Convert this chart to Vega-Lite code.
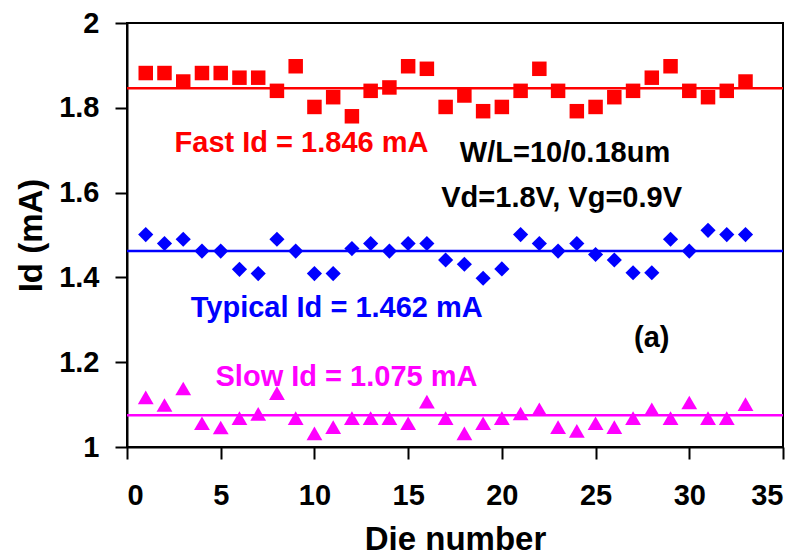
{
  "$schema": "https://vega.github.io/schema/vega-lite/v6.json",
  "autosize": {"type": "none"},
  "padding": {"left": 127, "top": 23, "right": 25, "bottom": 110},
  "width": 656,
  "height": 424,
  "config": {
    "view": {"stroke": "black", "strokeWidth": 2},
    "font": "Liberation Sans",
    "axis": {"grid": false, "domainColor": "black", "domainWidth": 2, "tickColor": "black", "tickWidth": 2, "tickSize": 12, "labelFont": "Liberation Sans", "labelFontWeight": "bold", "labelFontSize": 29, "labelColor": "black", "titleFont": "Liberation Sans", "titleFontWeight": "bold", "titleFontSize": 33, "titleColor": "black"}
  },
  "datasets": {
    "points": [
      {"die": 1, "series": "Fast", "id": 1.882}, {"die": 2, "series": "Fast", "id": 1.882}, {"die": 3, "series": "Fast", "id": 1.862}, {"die": 4, "series": "Fast", "id": 1.882}, {"die": 5, "series": "Fast", "id": 1.882}, {"die": 6, "series": "Fast", "id": 1.871}, {"die": 7, "series": "Fast", "id": 1.871}, {"die": 8, "series": "Fast", "id": 1.840}, {"die": 9, "series": "Fast", "id": 1.898}, {"die": 10, "series": "Fast", "id": 1.802}, {"die": 11, "series": "Fast", "id": 1.825}, {"die": 12, "series": "Fast", "id": 1.780}, {"die": 13, "series": "Fast", "id": 1.840}, {"die": 14, "series": "Fast", "id": 1.848}, {"die": 15, "series": "Fast", "id": 1.898}, {"die": 16, "series": "Fast", "id": 1.892}, {"die": 17, "series": "Fast", "id": 1.802}, {"die": 18, "series": "Fast", "id": 1.829}, {"die": 19, "series": "Fast", "id": 1.792}, {"die": 20, "series": "Fast", "id": 1.802}, {"die": 21, "series": "Fast", "id": 1.840}, {"die": 22, "series": "Fast", "id": 1.892}, {"die": 23, "series": "Fast", "id": 1.840}, {"die": 24, "series": "Fast", "id": 1.792}, {"die": 25, "series": "Fast", "id": 1.802}, {"die": 26, "series": "Fast", "id": 1.825}, {"die": 27, "series": "Fast", "id": 1.840}, {"die": 28, "series": "Fast", "id": 1.871}, {"die": 29, "series": "Fast", "id": 1.898}, {"die": 30, "series": "Fast", "id": 1.840}, {"die": 31, "series": "Fast", "id": 1.825}, {"die": 32, "series": "Fast", "id": 1.840}, {"die": 33, "series": "Fast", "id": 1.862},
      {"die": 1, "series": "Typical", "id": 1.501}, {"die": 2, "series": "Typical", "id": 1.480}, {"die": 3, "series": "Typical", "id": 1.490}, {"die": 4, "series": "Typical", "id": 1.462}, {"die": 5, "series": "Typical", "id": 1.462}, {"die": 6, "series": "Typical", "id": 1.419}, {"die": 7, "series": "Typical", "id": 1.409}, {"die": 8, "series": "Typical", "id": 1.490}, {"die": 9, "series": "Typical", "id": 1.462}, {"die": 10, "series": "Typical", "id": 1.409}, {"die": 11, "series": "Typical", "id": 1.409}, {"die": 12, "series": "Typical", "id": 1.468}, {"die": 13, "series": "Typical", "id": 1.480}, {"die": 14, "series": "Typical", "id": 1.462}, {"die": 15, "series": "Typical", "id": 1.480}, {"die": 16, "series": "Typical", "id": 1.480}, {"die": 17, "series": "Typical", "id": 1.441}, {"die": 18, "series": "Typical", "id": 1.431}, {"die": 19, "series": "Typical", "id": 1.398}, {"die": 20, "series": "Typical", "id": 1.420}, {"die": 21, "series": "Typical", "id": 1.501}, {"die": 22, "series": "Typical", "id": 1.480}, {"die": 23, "series": "Typical", "id": 1.462}, {"die": 24, "series": "Typical", "id": 1.480}, {"die": 25, "series": "Typical", "id": 1.454}, {"die": 26, "series": "Typical", "id": 1.441}, {"die": 27, "series": "Typical", "id": 1.411}, {"die": 28, "series": "Typical", "id": 1.411}, {"die": 29, "series": "Typical", "id": 1.490}, {"die": 30, "series": "Typical", "id": 1.462}, {"die": 31, "series": "Typical", "id": 1.511}, {"die": 32, "series": "Typical", "id": 1.501}, {"die": 33, "series": "Typical", "id": 1.501},
      {"die": 1, "series": "Slow", "id": 1.117}, {"die": 2, "series": "Slow", "id": 1.099}, {"die": 3, "series": "Slow", "id": 1.138}, {"die": 4, "series": "Slow", "id": 1.056}, {"die": 5, "series": "Slow", "id": 1.046}, {"die": 6, "series": "Slow", "id": 1.068}, {"die": 7, "series": "Slow", "id": 1.078}, {"die": 8, "series": "Slow", "id": 1.127}, {"die": 9, "series": "Slow", "id": 1.068}, {"die": 10, "series": "Slow", "id": 1.032}, {"die": 11, "series": "Slow", "id": 1.047}, {"die": 12, "series": "Slow", "id": 1.068}, {"die": 13, "series": "Slow", "id": 1.068}, {"die": 14, "series": "Slow", "id": 1.068}, {"die": 15, "series": "Slow", "id": 1.056}, {"die": 16, "series": "Slow", "id": 1.107}, {"die": 17, "series": "Slow", "id": 1.068}, {"die": 18, "series": "Slow", "id": 1.032}, {"die": 19, "series": "Slow", "id": 1.056}, {"die": 20, "series": "Slow", "id": 1.068}, {"die": 21, "series": "Slow", "id": 1.079}, {"die": 22, "series": "Slow", "id": 1.089}, {"die": 23, "series": "Slow", "id": 1.047}, {"die": 24, "series": "Slow", "id": 1.038}, {"die": 25, "series": "Slow", "id": 1.056}, {"die": 26, "series": "Slow", "id": 1.047}, {"die": 27, "series": "Slow", "id": 1.068}, {"die": 28, "series": "Slow", "id": 1.089}, {"die": 29, "series": "Slow", "id": 1.068}, {"die": 30, "series": "Slow", "id": 1.105}, {"die": 31, "series": "Slow", "id": 1.068}, {"die": 32, "series": "Slow", "id": 1.068}, {"die": 33, "series": "Slow", "id": 1.101}
    ],
    "means": [
      {"series": "Fast", "mean": 1.846},
      {"series": "Typical", "mean": 1.462},
      {"series": "Slow", "mean": 1.075}
    ],
    "labels": [
      {"series": "Fast", "x": 9.31, "y": 1.716, "label": "Fast Id = 1.846 mA"},
      {"series": "Typical", "x": 11.19, "y": 1.327, "label": "Typical Id = 1.462 mA"},
      {"series": "Slow", "x": 11.71, "y": 1.166, "label": "Slow Id = 1.075 mA"},
      {"series": "Note", "x": 23.37, "y": 1.693, "label": "W/L=10/0.18um"},
      {"series": "Note", "x": 23.19, "y": 1.587, "label": "Vd=1.8V, Vg=0.9V"},
      {"series": "Note", "x": 28.0, "y": 1.256, "label": "(a)"}
    ]
  },
  "layer": [
    {
      "data": {"name": "means"},
      "mark": {"type": "rule", "strokeWidth": 2.5},
      "encoding": {
        "y": {"field": "mean", "type": "quantitative", "scale": {"domain": [1, 2]}},
        "color": {"field": "series", "type": "nominal", "scale": {"domain": ["Fast", "Typical", "Slow", "Note"], "range": ["#FF0000", "#0000FF", "#FF00FF", "#000000"]}, "legend": null}
      }
    },
    {
      "data": {"name": "points"},
      "mark": {"type": "point", "filled": true, "opacity": 1},
      "encoding": {
        "x": {"field": "die", "type": "quantitative", "scale": {"domain": [0, 35], "nice": false}, "axis": {"values": [0, 5, 10, 15, 20, 25, 30, 35], "title": "Die number", "labelPadding": 22, "titlePadding": 13}},
        "y": {"field": "id", "type": "quantitative", "scale": {"domain": [1, 2], "nice": false, "zero": false}, "axis": {"values": [1, 1.2, 1.4, 1.6, 1.8, 2], "format": "~g", "title": "Id (mA)", "labelPadding": 16, "titlePadding": 10}},
        "color": {"field": "series", "type": "nominal", "legend": null},
        "shape": {"field": "series", "type": "nominal", "scale": {"domain": ["Fast", "Typical", "Slow"], "range": ["square", "diamond", "triangle-up"]}, "legend": null},
        "size": {"field": "series", "type": "nominal", "scale": {"domain": ["Fast", "Typical", "Slow"], "range": [210, 250, 370]}, "legend": null}
      }
    },
    {
      "data": {"name": "labels"},
      "mark": {"type": "text", "font": "Liberation Sans", "fontWeight": "bold", "fontSize": 29, "align": "center", "baseline": "middle"},
      "encoding": {
        "x": {"field": "x", "type": "quantitative"},
        "y": {"field": "y", "type": "quantitative"},
        "text": {"field": "label"},
        "color": {"field": "series", "type": "nominal", "legend": null}
      }
    }
  ]
}
